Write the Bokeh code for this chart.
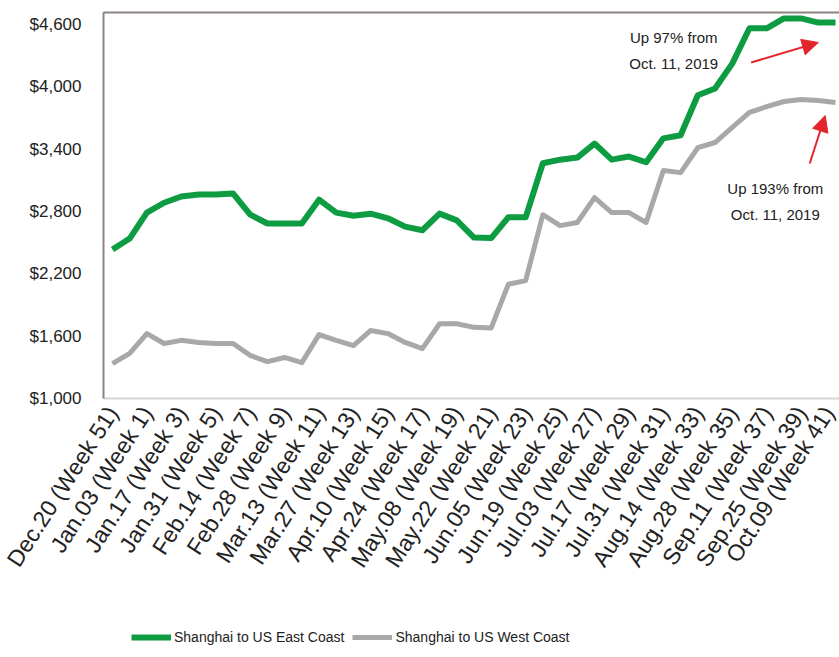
from bokeh.plotting import figure
from bokeh.layouts import column
from bokeh.models import (FixedTicker, NumeralTickFormatter, LinearAxis, Legend,
                          LegendItem, Arrow, NormalHead, ColumnDataSource, Range1d)
from bokeh.embed import file_html
from bokeh.resources import INLINE
from bokeh.core.properties import value

# ---------------- data ----------------
tick_labels = ["Dec.20 (Week 51)", "Jan.03 (Week 1)", "Jan.17 (Week 3)", "Jan.31 (Week 5)",
               "Feb.14 (Week 7)", "Feb.28 (Week 9)", "Mar.13 (Week 11)", "Mar.27 (Week 13)",
               "Apr.10 (Week 15)", "Apr.24 (Week 17)", "May.08 (Week 19)", "May.22 (Week 21)",
               "Jun.05 (Week 23)", "Jun.19 (Week 25)", "Jul.03 (Week 27)", "Jul.17 (Week 29)",
               "Jul.31 (Week 31)", "Aug.14 (Week 33)", "Aug.28 (Week 35)", "Sep.11 (Week 37)",
               "Sep.25 (Week 39)", "Oct.09 (Week 41)"]

east_coast = [2435, 2540, 2790, 2885, 2945, 2965, 2965, 2975, 2770, 2685, 2685, 2685, 2915,
              2790, 2760, 2780, 2735, 2655, 2620, 2780, 2715, 2550, 2545, 2745, 2745, 3265,
              3300, 3320, 3455, 3300, 3330, 3275, 3505, 3535, 3920, 3985, 4225, 4565, 4565,
              4660, 4660, 4620, 4620]

west_coast = [1335, 1435, 1625, 1530, 1560, 1540, 1530, 1530, 1415, 1355, 1395, 1345, 1615,
              1560, 1510, 1655, 1625, 1540, 1480, 1720, 1720, 1685, 1680, 2100, 2135, 2770,
              2665, 2695, 2935, 2790, 2790, 2695, 3195, 3175, 3415, 3465, 3610, 3755, 3810,
              3860, 3880, 3870, 3850]

y_ticks = [1000, 1600, 2200, 2800, 3400, 4000, 4600]

series_names = ["Shanghai to US East Coast", "Shanghai to US West Coast"]
note_east = "Up 97% from\nOct. 11, 2019"
note_west = "Up 193% from\nOct. 11, 2019"

# ---------------- styling ----------------
FONT = "Liberation Sans"
GREEN = "#0e9c43"
GRAY = "#a8a8a8"
RED = "#e3262b"
TEXT = "#222222"

weeks = list(range(len(east_coast)))
tick_pos = weeks[::2]

p = figure(width=839, height=620, output_backend="svg", toolbar_location=None,
           x_range=Range1d(-0.52, 42.23), y_range=Range1d(1000, 4717),
           min_border_left=103, min_border_right=0, min_border_top=12,
           min_border_bottom=222)

p.xgrid.grid_line_color = None
p.ygrid.grid_line_color = None
p.outline_line_color = None
p.background_fill_color = "white"

src = ColumnDataSource(dict(x=weeks, east=east_coast, west=west_coast))
p.line("x", "east", source=src, line_color=GREEN, line_width=6, line_join="round")
p.line("x", "west", source=src, line_color=GRAY, line_width=5, line_join="round")

# x axis
xa = p.xaxis[0]
xa.ticker = FixedTicker(ticks=tick_pos)
xa.major_label_overrides = {t: lab for t, lab in zip(tick_pos, tick_labels)}
xa.major_label_orientation = 1.0
xa.major_label_text_font = FONT
xa.major_label_text_font_size = "23px"
xa.major_label_text_color = TEXT
xa.major_tick_line_color = None
xa.minor_tick_line_color = None
xa.axis_line_color = "#d6d6d6"
xa.axis_line_width = 2
xa.major_label_standoff = 4

# y axis
ya = p.yaxis[0]
ya.ticker = FixedTicker(ticks=y_ticks)
ya.formatter = NumeralTickFormatter(format="$0,0")
ya.major_label_text_font = FONT
ya.major_label_text_font_size = "17px"
ya.major_label_text_color = TEXT
ya.major_tick_line_color = None
ya.minor_tick_line_color = None
ya.axis_line_color = "#8c8480"
ya.axis_line_width = 2
ya.major_label_standoff = 16

# top border
top = LinearAxis(ticker=FixedTicker(ticks=[]), axis_line_color="#8c8480", axis_line_width=2,
                 major_tick_line_color=None, minor_tick_line_color=None,
                 major_label_text_font_size="0px", major_label_standoff=0)
p.add_layout(top, "above")

# annotations
p.text(x=[32.6], y=[4350], text=[note_east], text_font=value(FONT), text_font_size="15px",
       text_color=TEXT, text_align="center", text_baseline="middle", text_line_height=1.5)
p.text(x=[38.5], y=[2895], text=[note_west], text_font=value(FONT), text_font_size="15px",
       text_color=TEXT, text_align="center", text_baseline="middle", text_line_height=1.5)

p.add_layout(Arrow(end=NormalHead(size=16, fill_color=RED, line_color=RED),
                   x_start=37.1, y_start=4236, x_end=41.0, y_end=4428,
                   line_color=RED, line_width=2))
p.add_layout(Arrow(end=NormalHead(size=16, fill_color=RED, line_color=RED),
                   x_start=40.5, y_start=3263, x_end=41.4, y_end=3725,
                   line_color=RED, line_width=2))

# legend strip below the chart (its lines lie outside its own view; only the key shows)
lg = figure(width=839, height=37, output_backend="svg", toolbar_location=None,
            x_axis_type=None, y_axis_type=None, min_border=0,
            x_range=Range1d(-0.52, 42.23), y_range=Range1d(0, 1))
lg.outline_line_color = None
lg.xgrid.grid_line_color = None
lg.ygrid.grid_line_color = None
k_east = lg.line("x", "east", source=src, line_color=GREEN, line_width=6)
k_west = lg.line("x", "west", source=src, line_color=GRAY, line_width=5)
legend = Legend(items=[LegendItem(label=series_names[0], renderers=[k_east]),
                       LegendItem(label=series_names[1], renderers=[k_west])],
                orientation="horizontal", location=(28, 10),
                label_text_font=FONT, label_text_font_size="14px", label_text_color=TEXT,
                glyph_width=40, glyph_height=20, label_standoff=3, spacing=8,
                border_line_color=None, background_fill_alpha=0, padding=4, margin=0)
lg.add_layout(legend, "center")

layout = column(p, lg, spacing=0)
open("out.html", "w").write(file_html(layout, INLINE))
